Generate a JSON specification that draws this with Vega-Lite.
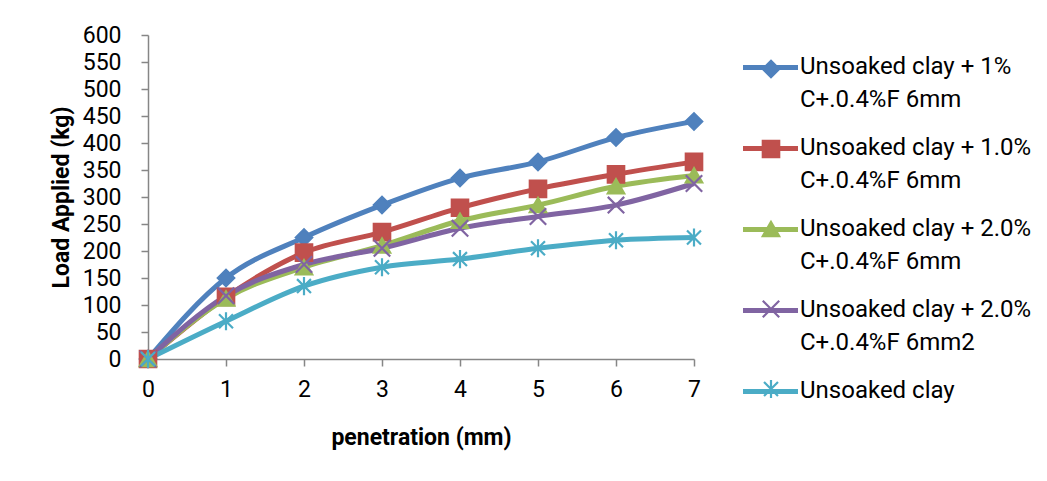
{
  "$schema": "https://vega.github.io/schema/vega-lite/v6.json",
  "width": 546,
  "height": 324,
  "autosize": {"type": "none"},
  "padding": {"left": 148, "top": 35, "right": 353, "bottom": 122},
  "background": "white",
  "config": {
    "font": "Roboto",
    "view": {"stroke": null},
    "style": {"guide-label": {"lineHeight": 33}},
    "axis": {
      "domainColor": "#868686",
      "tickColor": "#868686",
      "domainWidth": 1.5,
      "tickWidth": 1.5,
      "tickSize": 7,
      "grid": false,
      "labelFont": "Roboto",
      "labelFontSize": 23,
      "labelColor": "black",
      "titleFont": "Roboto",
      "titleFontSize": 23,
      "titleFontWeight": "bold",
      "titleColor": "black"
    }
  },
  "data": {
    "values": [
      {"series": "Unsoaked clay + 1% C+.0.4%F 6mm", "penetration": 0, "load": 0},
      {"series": "Unsoaked clay + 1% C+.0.4%F 6mm", "penetration": 1, "load": 150},
      {"series": "Unsoaked clay + 1% C+.0.4%F 6mm", "penetration": 2, "load": 225},
      {"series": "Unsoaked clay + 1% C+.0.4%F 6mm", "penetration": 3, "load": 285},
      {"series": "Unsoaked clay + 1% C+.0.4%F 6mm", "penetration": 4, "load": 335},
      {"series": "Unsoaked clay + 1% C+.0.4%F 6mm", "penetration": 5, "load": 365},
      {"series": "Unsoaked clay + 1% C+.0.4%F 6mm", "penetration": 6, "load": 410},
      {"series": "Unsoaked clay + 1% C+.0.4%F 6mm", "penetration": 7, "load": 440},
      {"series": "Unsoaked clay + 1.0% C+.0.4%F 6mm", "penetration": 0, "load": 0},
      {"series": "Unsoaked clay + 1.0% C+.0.4%F 6mm", "penetration": 1, "load": 115},
      {"series": "Unsoaked clay + 1.0% C+.0.4%F 6mm", "penetration": 2, "load": 197},
      {"series": "Unsoaked clay + 1.0% C+.0.4%F 6mm", "penetration": 3, "load": 235},
      {"series": "Unsoaked clay + 1.0% C+.0.4%F 6mm", "penetration": 4, "load": 280},
      {"series": "Unsoaked clay + 1.0% C+.0.4%F 6mm", "penetration": 5, "load": 315},
      {"series": "Unsoaked clay + 1.0% C+.0.4%F 6mm", "penetration": 6, "load": 342},
      {"series": "Unsoaked clay + 1.0% C+.0.4%F 6mm", "penetration": 7, "load": 365},
      {"series": "Unsoaked clay + 2.0% C+.0.4%F 6mm", "penetration": 0, "load": 0},
      {"series": "Unsoaked clay + 2.0% C+.0.4%F 6mm", "penetration": 1, "load": 112},
      {"series": "Unsoaked clay + 2.0% C+.0.4%F 6mm", "penetration": 2, "load": 170},
      {"series": "Unsoaked clay + 2.0% C+.0.4%F 6mm", "penetration": 3, "load": 210},
      {"series": "Unsoaked clay + 2.0% C+.0.4%F 6mm", "penetration": 4, "load": 256},
      {"series": "Unsoaked clay + 2.0% C+.0.4%F 6mm", "penetration": 5, "load": 285},
      {"series": "Unsoaked clay + 2.0% C+.0.4%F 6mm", "penetration": 6, "load": 320},
      {"series": "Unsoaked clay + 2.0% C+.0.4%F 6mm", "penetration": 7, "load": 340},
      {"series": "Unsoaked clay + 2.0% C+.0.4%F 6mm2", "penetration": 0, "load": 0},
      {"series": "Unsoaked clay + 2.0% C+.0.4%F 6mm2", "penetration": 1, "load": 117},
      {"series": "Unsoaked clay + 2.0% C+.0.4%F 6mm2", "penetration": 2, "load": 175},
      {"series": "Unsoaked clay + 2.0% C+.0.4%F 6mm2", "penetration": 3, "load": 205},
      {"series": "Unsoaked clay + 2.0% C+.0.4%F 6mm2", "penetration": 4, "load": 242},
      {"series": "Unsoaked clay + 2.0% C+.0.4%F 6mm2", "penetration": 5, "load": 264},
      {"series": "Unsoaked clay + 2.0% C+.0.4%F 6mm2", "penetration": 6, "load": 285},
      {"series": "Unsoaked clay + 2.0% C+.0.4%F 6mm2", "penetration": 7, "load": 325},
      {"series": "Unsoaked clay", "penetration": 0, "load": 0},
      {"series": "Unsoaked clay", "penetration": 1, "load": 70},
      {"series": "Unsoaked clay", "penetration": 2, "load": 135},
      {"series": "Unsoaked clay", "penetration": 3, "load": 170},
      {"series": "Unsoaked clay", "penetration": 4, "load": 185},
      {"series": "Unsoaked clay", "penetration": 5, "load": 205},
      {"series": "Unsoaked clay", "penetration": 6, "load": 220},
      {"series": "Unsoaked clay", "penetration": 7, "load": 225}
    ]
  },
  "encoding": {
    "x": {
      "field": "penetration",
      "type": "quantitative",
      "scale": {"domain": [0, 7], "nice": false, "zero": false},
      "axis": {
        "values": [0, 1, 2, 3, 4, 5, 6, 7],
        "format": "d",
        "title": "penetration (mm)",
        "labelPadding": 12,
        "titlePadding": 25,
        "labelFlush": false
      }
    },
    "y": {
      "field": "load",
      "type": "quantitative",
      "scale": {"domain": [0, 600], "nice": false},
      "axis": {
        "values": [0, 50, 100, 150, 200, 250, 300, 350, 400, 450, 500, 550, 600],
        "title": "Load Applied (kg)",
        "labelPadding": 20,
        "titlePadding": 9,
        "labelFlush": false
      }
    }
  },
  "layer": [
    {
      "mark": {"type": "line", "interpolate": "monotone", "strokeWidth": 5},
      "encoding": {
        "color": {
          "field": "series",
          "type": "nominal",
          "sort": [
            "Unsoaked clay + 1% C+.0.4%F 6mm",
            "Unsoaked clay + 1.0% C+.0.4%F 6mm",
            "Unsoaked clay + 2.0% C+.0.4%F 6mm",
            "Unsoaked clay + 2.0% C+.0.4%F 6mm2",
            "Unsoaked clay"
          ],
          "scale": {"range": ["#4F81BD", "#C0504D", "#9BBB59", "#8064A2", "#4BACC6"]},
          "legend": {
            "orient": "none",
            "legendX": 610,
            "legendY": 26,
            "padding": 0,
            "title": null,
            "symbolType": "M-2.75,-0.6H2.75",
            "symbolSize": 400,
            "symbolStrokeWidth": 5,
            "labelFont": "Roboto",
            "labelFontSize": 24,
            "labelColor": "black",
            "labelLimit": 400,
            "labelOffset": 17,
            "labelBaseline": "alphabetic",
            "rowPadding": 23,
            "labelExpr": "indexof(datum.label, ' C+') > 0 ? [slice(datum.label, 0, indexof(datum.label, ' C+')), slice(datum.label, indexof(datum.label, ' C+') + 1)] : datum.label"
          }
        }
      }
    },
    {
      "mark": {"type": "point", "filled": true, "size": 270, "strokeWidth": 2.2, "opacity": 1},
      "encoding": {
        "fill": {
          "field": "series",
          "type": "nominal",
          "scale": {
            "domain": [
              "Unsoaked clay + 1% C+.0.4%F 6mm",
              "Unsoaked clay + 1.0% C+.0.4%F 6mm",
              "Unsoaked clay + 2.0% C+.0.4%F 6mm",
              "Unsoaked clay + 2.0% C+.0.4%F 6mm2",
              "Unsoaked clay"
            ],
            "range": ["#4F81BD", "#C0504D", "#9BBB59", "#8064A2", "#4BACC6"]
          },
          "legend": {
            "orient": "none",
            "legendX": 611,
            "legendY": 22,
            "padding": 0,
            "title": null,
            "symbolSize": 270,
            "symbolStrokeWidth": 2.2,
            "labelFont": "Roboto",
            "labelFontSize": 24,
            "labelOpacity": 0,
            "labelLimit": 400,
            "labelOffset": 17,
            "labelBaseline": "alphabetic",
            "rowPadding": 23,
            "labelExpr": "indexof(datum.label, ' C+') > 0 ? [' ', ' '] : ' '"
          }
        },
        "stroke": {
          "field": "series",
          "type": "nominal",
          "scale": {
            "domain": [
              "Unsoaked clay + 1% C+.0.4%F 6mm",
              "Unsoaked clay + 1.0% C+.0.4%F 6mm",
              "Unsoaked clay + 2.0% C+.0.4%F 6mm",
              "Unsoaked clay + 2.0% C+.0.4%F 6mm2",
              "Unsoaked clay"
            ],
            "range": ["#4F81BD", "#C0504D", "#9BBB59", "#8064A2", "#4BACC6"]
          }
        },
        "shape": {
          "field": "series",
          "type": "nominal",
          "scale": {
            "domain": [
              "Unsoaked clay + 1% C+.0.4%F 6mm",
              "Unsoaked clay + 1.0% C+.0.4%F 6mm",
              "Unsoaked clay + 2.0% C+.0.4%F 6mm",
              "Unsoaked clay + 2.0% C+.0.4%F 6mm2",
              "Unsoaked clay"
            ],
            "range": [
              "diamond",
              "square",
              "triangle-up",
              "M-1,-1L1,1M-1,1L1,-1",
              "M0,-1.1L0,1.1M-0.85,-0.85L0.85,0.85M-0.85,0.85L0.85,-0.85"
            ]
          }
        }
      }
    }
  ]
}
